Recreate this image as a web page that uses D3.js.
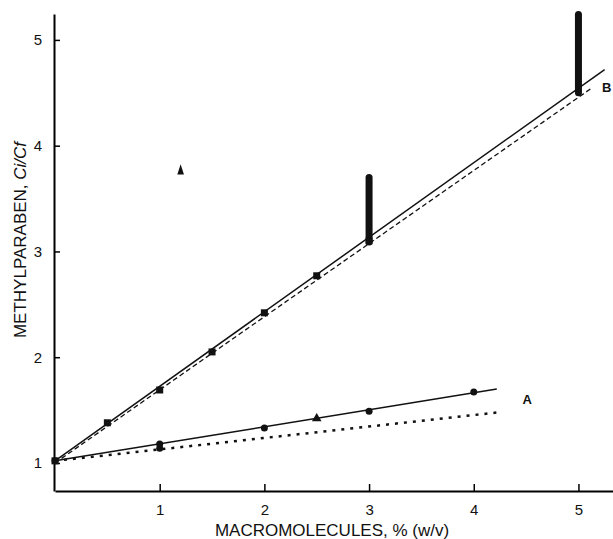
<!DOCTYPE html>
<html>
<head>
<meta charset="utf-8">
<script src="https://cdn.jsdelivr.net/npm/d3@7"></script>
<style>
  body { margin: 0; background: #fff; }
  text { font-family: "Liberation Sans", Arial, sans-serif; fill: #111; }
</style>
</head>
<body>
<div id="chart"></div>
<script>
// values
const xTicks = [1, 2, 3, 4, 5];
const yTicks = [1, 2, 3, 4, 5];

// curve B (squares)
const pointsB = [[0, 1.02], [0.5, 1.38], [1, 1.69], [1.5, 2.05], [2, 2.42], [2.5, 2.77], [3, 3.10]];
const barsB = [[3, 3.09, 3.70], [5, 4.50, 5.24]];
const fitB = [[0, 1.02], [5.25, 4.72]];
const fitBdashed = [[0, 1.00], [5.12, 4.54]];

// curve A (circles)
const pointsA = [[0, 1.02], [1, 1.18], [2, 1.33], [3, 1.49], [4, 1.67]];
const triangleA = [[2.5, 1.42]];
const fitA = [[0, 1.02], [4.22, 1.70]];
const fitAcross = [[0, 1.02], [4.25, 1.48]];
const extraA = [[1, 1.14]];

const strayMark = [[1.2, 3.76]];
const curveLabels = [["A", 4.51, 1.60], ["B", 5.27, 4.55]];

const x = d3.scaleLinear().domain([0, 5.33]).range([55, 613]);
const y = d3.scaleLinear().domain([0.735, 5.245]).range([491, 14]);

const svg = d3.select("#chart").append("svg")
    .attr("width", 613)
    .attr("height", 539);

const line = d3.line().x(d => x(d[0])).y(d => y(d[1]));

// axes
svg.append("g")
    .attr("transform", `translate(0, ${y(0.735)})`)
    .call(d3.axisBottom(x).tickValues(xTicks).tickFormat(d3.format("d")).tickSize(-7).tickSizeOuter(0).tickPadding(13))
    .call(g => g.select(".domain").attr("stroke-width", 2))
    .call(g => g.selectAll(".tick line").attr("stroke-width", 1.5))
    .call(g => g.selectAll(".tick text").style("font-size", "15px").attr("fill", "#111"));

svg.append("g")
    .attr("transform", `translate(${x(0) - 1}, 0)`)
    .call(d3.axisLeft(y).tickValues(yTicks).tickFormat(d3.format("d")).tickSize(-6).tickSizeOuter(0).tickPadding(12))
    .call(g => g.select(".domain").attr("stroke-width", 2))
    .call(g => g.selectAll(".tick line").attr("stroke-width", 1.5))
    .call(g => g.selectAll(".tick text").style("font-size", "15px").attr("fill", "#111"));

// axis titles
svg.append("text")
    .attr("x", 332)
    .attr("y", 536)
    .attr("text-anchor", "middle")
    .style("font-size", "17px")
    .text("MACROMOLECULES, % (w/v)");

const ylab = svg.append("text")
    .attr("transform", "translate(26, 240) rotate(-90)")
    .attr("text-anchor", "middle")
    .style("font-size", "17px");
ylab.append("tspan").text("METHYLPARABEN, ");
ylab.append("tspan").style("font-style", "italic").text("Ci/Cf");

// fitted lines
svg.append("path").datum(fitB).attr("d", line)
    .attr("fill", "none").attr("stroke", "#111").attr("stroke-width", 1.5);
svg.append("path").datum(fitBdashed).attr("d", line)
    .attr("fill", "none").attr("stroke", "#111").attr("stroke-width", 1.3)
    .attr("stroke-dasharray", "5,3");
svg.append("path").datum(fitA).attr("d", line)
    .attr("fill", "none").attr("stroke", "#111").attr("stroke-width", 1.5);
svg.append("path").datum(fitAcross).attr("d", line)
    .attr("fill", "none").attr("stroke", "#111").attr("stroke-width", 2.5)
    .attr("stroke-dasharray", "3,6");

// error bars
svg.selectAll("line.bar")
    .data(barsB)
    .join("line")
    .attr("class", "bar")
    .attr("x1", d => x(d[0])).attr("x2", d => x(d[0]))
    .attr("y1", d => y(d[1])).attr("y2", d => y(d[2]))
    .attr("stroke", "#111").attr("stroke-width", 7).attr("stroke-linecap", "round");

// markers
svg.selectAll("rect.sq")
    .data(pointsB)
    .join("rect")
    .attr("class", "sq")
    .attr("x", d => x(d[0]) - 3.5).attr("y", d => y(d[1]) - 3.5)
    .attr("width", 7).attr("height", 7)
    .attr("fill", "#111");

svg.selectAll("circle.dot")
    .data(pointsA.concat(extraA))
    .join("circle")
    .attr("class", "dot")
    .attr("cx", d => x(d[0])).attr("cy", d => y(d[1]))
    .attr("r", 3.5)
    .attr("fill", "#111");

svg.selectAll("path.tri")
    .data(triangleA)
    .join("path")
    .attr("class", "tri")
    .attr("transform", d => `translate(${x(d[0])}, ${y(d[1])})`)
    .attr("d", d3.symbol(d3.symbolTriangle, 40))
    .attr("fill", "#111");

svg.selectAll("path.stray")
    .data(strayMark)
    .join("path")
    .attr("class", "stray")
    .attr("transform", d => `translate(${x(d[0])}, ${y(d[1])}) scale(0.8, 1.4)`)
    .attr("d", d3.symbol(d3.symbolTriangle, 30))
    .attr("fill", "#111");

// curve labels
svg.selectAll("text.curve")
    .data(curveLabels)
    .join("text")
    .attr("class", "curve")
    .attr("x", d => x(d[1]))
    .attr("y", d => y(d[2]))
    .attr("dy", "0.35em")
    .attr("text-anchor", "middle")
    .style("font-size", "13px")
    .style("font-weight", "bold")
    .text(d => d[0]);
</script>
</body>
</html>
